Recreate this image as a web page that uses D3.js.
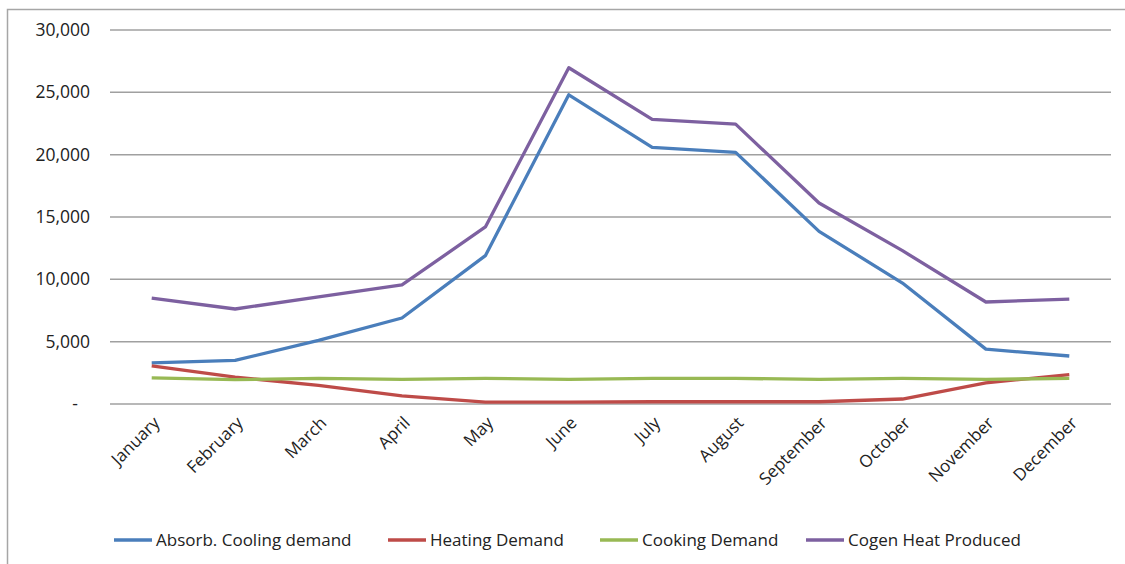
<!DOCTYPE html>
<html>
<head>
<meta charset="utf-8">
<script src="https://cdn.jsdelivr.net/npm/d3@7"></script>
<style>
  body { margin: 0; background: #fff; }
  text { font-family: "Open Sans", sans-serif; fill: #222; }
</style>
</head>
<body>
<div id="chart"></div>
<script>
const months = ["January", "February", "March", "April", "May", "June",
  "July", "August", "September", "October", "November", "December"];
const coolingDemand = [3300, 3500, 5100, 6900, 11900, 24800, 20580, 20180, 13850, 9700, 4400, 3850];
const heatingDemand = [3050, 2150, 1500, 650, 150, 150, 180, 180, 180, 400, 1700, 2350];
const cookingDemand = [2100, 1950, 2050, 1980, 2050, 1980, 2050, 2050, 1980, 2050, 1980, 2050];
const cogenHeat = [8500, 7620, 8600, 9550, 14200, 26970, 22830, 22450, 16120, 12300, 8180, 8420];
const yTicks = [0, 5000, 10000, 15000, 20000, 25000, 30000];

const series = [
  { name: "Absorb. Cooling demand", values: coolingDemand, color: "#4a7ebb" },
  { name: "Heating Demand", values: heatingDemand, color: "#be4b48" },
  { name: "Cooking Demand", values: cookingDemand, color: "#98b954" },
  { name: "Cogen Heat Produced", values: cogenHeat, color: "#7d60a0" }
];

const width = 1125, height = 564;
const svg = d3.select("#chart").append("svg")
  .attr("width", width)
  .attr("height", height);

// outer chart border (runs off the right and bottom edges)
svg.append("rect")
  .attr("x", 7.5).attr("y", 9.5)
  .attr("width", 1130).attr("height", 570)
  .attr("fill", "none")
  .attr("stroke", "#a6a6a6")
  .attr("stroke-width", 1.5);

const x = d3.scaleBand().domain(months).range([110, 1111]);
const y = d3.scaleLinear().domain([0, 30000]).range([404, 30]);

// gridlines
svg.append("g")
  .selectAll("line")
  .data(yTicks)
  .join("line")
  .attr("x1", 110).attr("x2", 1111)
  .attr("y1", d => y(d)).attr("y2", d => y(d))
  .attr("stroke", "#a0a0a0")
  .attr("stroke-width", 1.5);

// y axis labels
const yAxis = svg.append("g")
  .attr("transform", "translate(98,0)")
  .call(d3.axisLeft(y).tickValues(yTicks).tickSize(0).tickPadding(8)
    .tickFormat(d => d === 0 ? "-" : d3.format(",")(d)));
yAxis.select(".domain").remove();
yAxis.selectAll("text")
  .style("font-size", "17.5px")
  .attr("fill", "#222")
  .attr("dx", d => d === 0 ? -12 : 0);

// x axis labels, rotated
const xAxis = svg.append("g")
  .attr("transform", "translate(0,404)")
  .call(d3.axisBottom(x).tickSize(0).tickPadding(0));
xAxis.select(".domain").remove();
xAxis.selectAll("text")
  .style("font-size", "17px")
  .attr("fill", "#222")
  .attr("text-anchor", "end")
  .attr("dy", null)
  .attr("y", null)
  .attr("transform", "translate(9,20) rotate(-45)");

const line = d3.line()
  .x((d, i) => x(months[i]) + x.bandwidth() / 2)
  .y(d => y(d));

svg.append("g")
  .selectAll("path")
  .data(series)
  .join("path")
  .attr("d", d => line(d.values))
  .attr("fill", "none")
  .attr("stroke", d => d.color)
  .attr("stroke-width", 3.3)
  .attr("stroke-linejoin", "round");

// legend
const legendX = [114, 388, 600, 806];
const legend = svg.append("g")
  .selectAll("g")
  .data(series)
  .join("g")
  .attr("transform", (d, i) => `translate(${legendX[i]},540)`);
legend.append("line")
  .attr("x1", 0).attr("x2", 38)
  .attr("stroke", d => d.color)
  .attr("stroke-width", 3.3);
legend.append("text")
  .attr("x", 42)
  .attr("dy", "0.35em")
  .style("font-size", "17px")
  .text(d => d.name);
</script>
</body>
</html>
